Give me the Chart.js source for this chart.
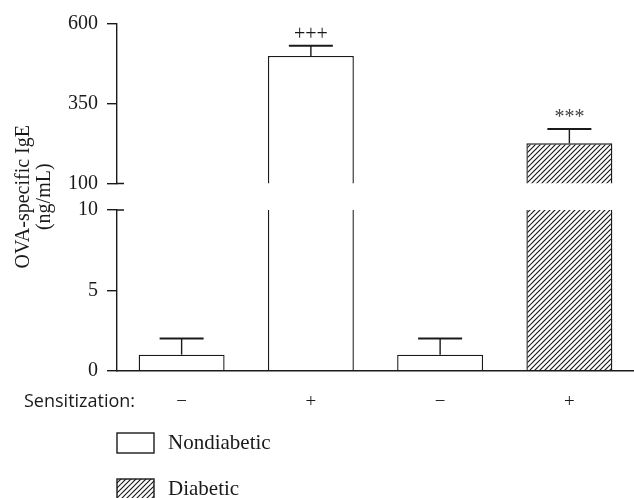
<!DOCTYPE html>
<html>
<head>
<meta charset="utf-8">
<script src="https://cdn.jsdelivr.net/npm/chart.js@4/dist/chart.umd.min.js"></script>
<style>
html,body{margin:0;padding:0;background:#fff;}
#wrap{width:634px;height:498px;position:relative;}
</style>
</head>
<body>
<div id="wrap"><canvas id="c" width="634" height="498"></canvas></div>
<script>
// ---- data ----
const sensitization = ['\u2212', '+', '\u2212', '+'];
const groups = ['Nondiabetic', 'Nondiabetic', 'Diabetic', 'Diabetic'];
const igeMean = [1, 500, 1, 226];
const igeSem = [1, 32, 1, 45];
const sigMarks = ['', '+++', '', '***'];
const upperTicks = [100, 350, 600];
const lowerTicks = [0, 5, 10];
const legendNames = ['Nondiabetic', 'Diabetic'];
const yTitle = ['OVA-specific IgE', '(ng/mL)'];
const xTitle = 'Sensitization:';

// ---- styles ----
const SERIF = '"Liberation Serif", "Times New Roman", serif';
const SANS = '"Open Sans", "Noto Sans", sans-serif';
const INK = '#1a1a1a';

function makeHatch() {
  const s = 10;
  const c = document.createElement('canvas');
  c.width = s; c.height = s;
  const g = c.getContext('2d');
  g.fillStyle = '#fff';
  g.fillRect(0, 0, s, s);
  g.strokeStyle = '#1a1a1a';
  g.lineWidth = 1.15;
  for (const off of [-s, -s / 2, 0, s / 2, s]) {
    g.beginPath();
    g.moveTo(off - 2, s + 2);
    g.lineTo(off + s + 2, -2);
    g.stroke();
  }
  return g.createPattern(c, 'repeat');
}
const hatch = makeHatch();
const barFill = igeMean.map((v, i) => (groups[i] === 'Diabetic' && sensitization[i] === '+') ? hatch : '#ffffff');

const clipPerScale = {
  id: 'clipPerScale',
  beforeDatasetDraw(chart, args) {
    const ys = chart.scales[args.meta.yAxisID];
    const ctx = chart.ctx;
    ctx.save();
    ctx.beginPath();
    ctx.rect(0, ys.top, chart.width, ys.bottom - ys.top);
    ctx.clip();
  },
  afterDatasetDraw(chart) {
    chart.ctx.restore();
  }
};

const extras = {
  id: 'extras',
  afterDatasetsDraw(chart) {
    const ctx = chart.ctx;
    const xs = chart.scales.x, up = chart.scales.yUp, low = chart.scales.yLow;
    ctx.save();
    ctx.strokeStyle = INK;
    ctx.fillStyle = INK;
    igeMean.forEach((m, i) => {
      const top = m + igeSem[i];
      const sc = top <= low.max ? low : up;
      const x = xs.getPixelForValue(i);
      const yTop = sc.getPixelForValue(top);
      const yBar = sc.getPixelForValue(m);
      ctx.lineWidth = 1.4;
      ctx.beginPath();
      ctx.moveTo(x, yBar);
      ctx.lineTo(x, yTop);
      ctx.stroke();
      ctx.lineWidth = 2;
      ctx.beginPath();
      ctx.moveTo(x - 22, yTop);
      ctx.lineTo(x + 22, yTop);
      ctx.stroke();
      if (sigMarks[i]) {
        ctx.font = '20px ' + SERIF;
        ctx.textAlign = 'center';
        ctx.textBaseline = 'alphabetic';
        ctx.fillStyle = sigMarks[i] === '***' ? '#444' : INK;
        ctx.fillText(sigMarks[i], x, yTop - 6);
        ctx.fillStyle = INK;
      }
    });
    // break marks on the axis
    const ax = up.right;
    ctx.lineWidth = 1.4;
    ctx.beginPath();
    ctx.moveTo(ax, up.getPixelForValue(up.min));
    ctx.lineTo(ax + 7, up.getPixelForValue(up.min));
    ctx.moveTo(ax, low.getPixelForValue(low.max));
    ctx.lineTo(ax + 7, low.getPixelForValue(low.max));
    ctx.stroke();
    ctx.restore();
  },
  afterDraw(chart) {
    const ctx = chart.ctx;
    ctx.save();
    ctx.fillStyle = INK;
    // y title
    ctx.font = '20px ' + SERIF;
    ctx.textAlign = 'center';
    ctx.textBaseline = 'alphabetic';
    const cy = (chart.scales.yUp.bottom + chart.scales.yLow.top) / 2;
    [[28.5, yTitle[0]], [49.5, yTitle[1]]].forEach(([bx, t]) => {
      ctx.save();
      ctx.translate(bx, cy);
      ctx.rotate(-Math.PI / 2);
      ctx.fillText(t, 0, 0);
      ctx.restore();
    });
    // x row label
    ctx.font = '18px ' + SANS;
    ctx.textAlign = 'left';
    ctx.fillText(xTitle, 24, 407);
    // legend
    const lx = chart.chartArea.left;
    ctx.font = '21px ' + SERIF;
    ctx.textBaseline = 'middle';
    [[433, '#ffffff', legendNames[0]], [479, hatch, legendNames[1]]].forEach(([y, fill, name]) => {
      ctx.fillStyle = fill;
      ctx.fillRect(lx, y, 37, 20);
      ctx.strokeStyle = INK;
      ctx.lineWidth = 1.4;
      ctx.strokeRect(lx, y, 37, 20);
      ctx.fillStyle = INK;
      ctx.fillText(name, lx + 51, y + 10);
    });
    ctx.restore();
  }
};

const tickFont = { family: SERIF, size: 20 };
function yAxis(min, max, ticks, weight) {
  return {
    type: 'linear', position: 'left', stack: 'left', stackWeight: weight,
    min: min, max: max,
    afterBuildTicks: s => { s.ticks = ticks.map(v => ({ value: v })); },
    afterFit: s => { s.width = 117; },
    grid: { drawOnChartArea: false, drawTicks: true, tickLength: 10, color: INK, lineWidth: 1.4 },
    border: { display: true, color: INK, width: 1.4 },
    ticks: { font: tickFont, color: INK, padding: 9 }
  };
}

new Chart(document.getElementById('c'), {
  type: 'bar',
  data: {
    labels: sensitization,
    datasets: [
      { label: 'upper', data: igeMean, yAxisID: 'yUp', grouped: false,
        backgroundColor: barFill, borderColor: INK, borderWidth: 1.4,
        barPercentage: 0.665, categoryPercentage: 1 },
      { label: 'lower', data: igeMean, yAxisID: 'yLow', grouped: false,
        backgroundColor: barFill, borderColor: INK, borderWidth: 1.4,
        barPercentage: 0.665, categoryPercentage: 1 }
    ]
  },
  options: {
    responsive: false,
    animation: false,
    devicePixelRatio: 1,
    layout: { padding: { top: 24, left: 0, right: 0, bottom: 0 } },
    plugins: { legend: { display: false }, tooltip: { enabled: false } },
    scales: {
      x: {
        type: 'category',
        afterFit: s => { s.height = 127.3; },
        grid: { display: false, drawTicks: false },
        border: { display: true, color: INK, width: 1.4 },
        ticks: { font: { family: SERIF, size: 19 }, color: INK, padding: 20 }
      },
      yLow: yAxis(lowerTicks[0], lowerTicks[lowerTicks.length - 1], lowerTicks, 160.7),
      yGap: { type: 'linear', display: false, stack: 'left', stackWeight: 26.5, position: 'left', min: 0, max: 1 },
      yUp: yAxis(upperTicks[0], upperTicks[upperTicks.length - 1], upperTicks, 159.5)
    }
  },
  plugins: [clipPerScale, extras]
});
</script>
</body>
</html>
